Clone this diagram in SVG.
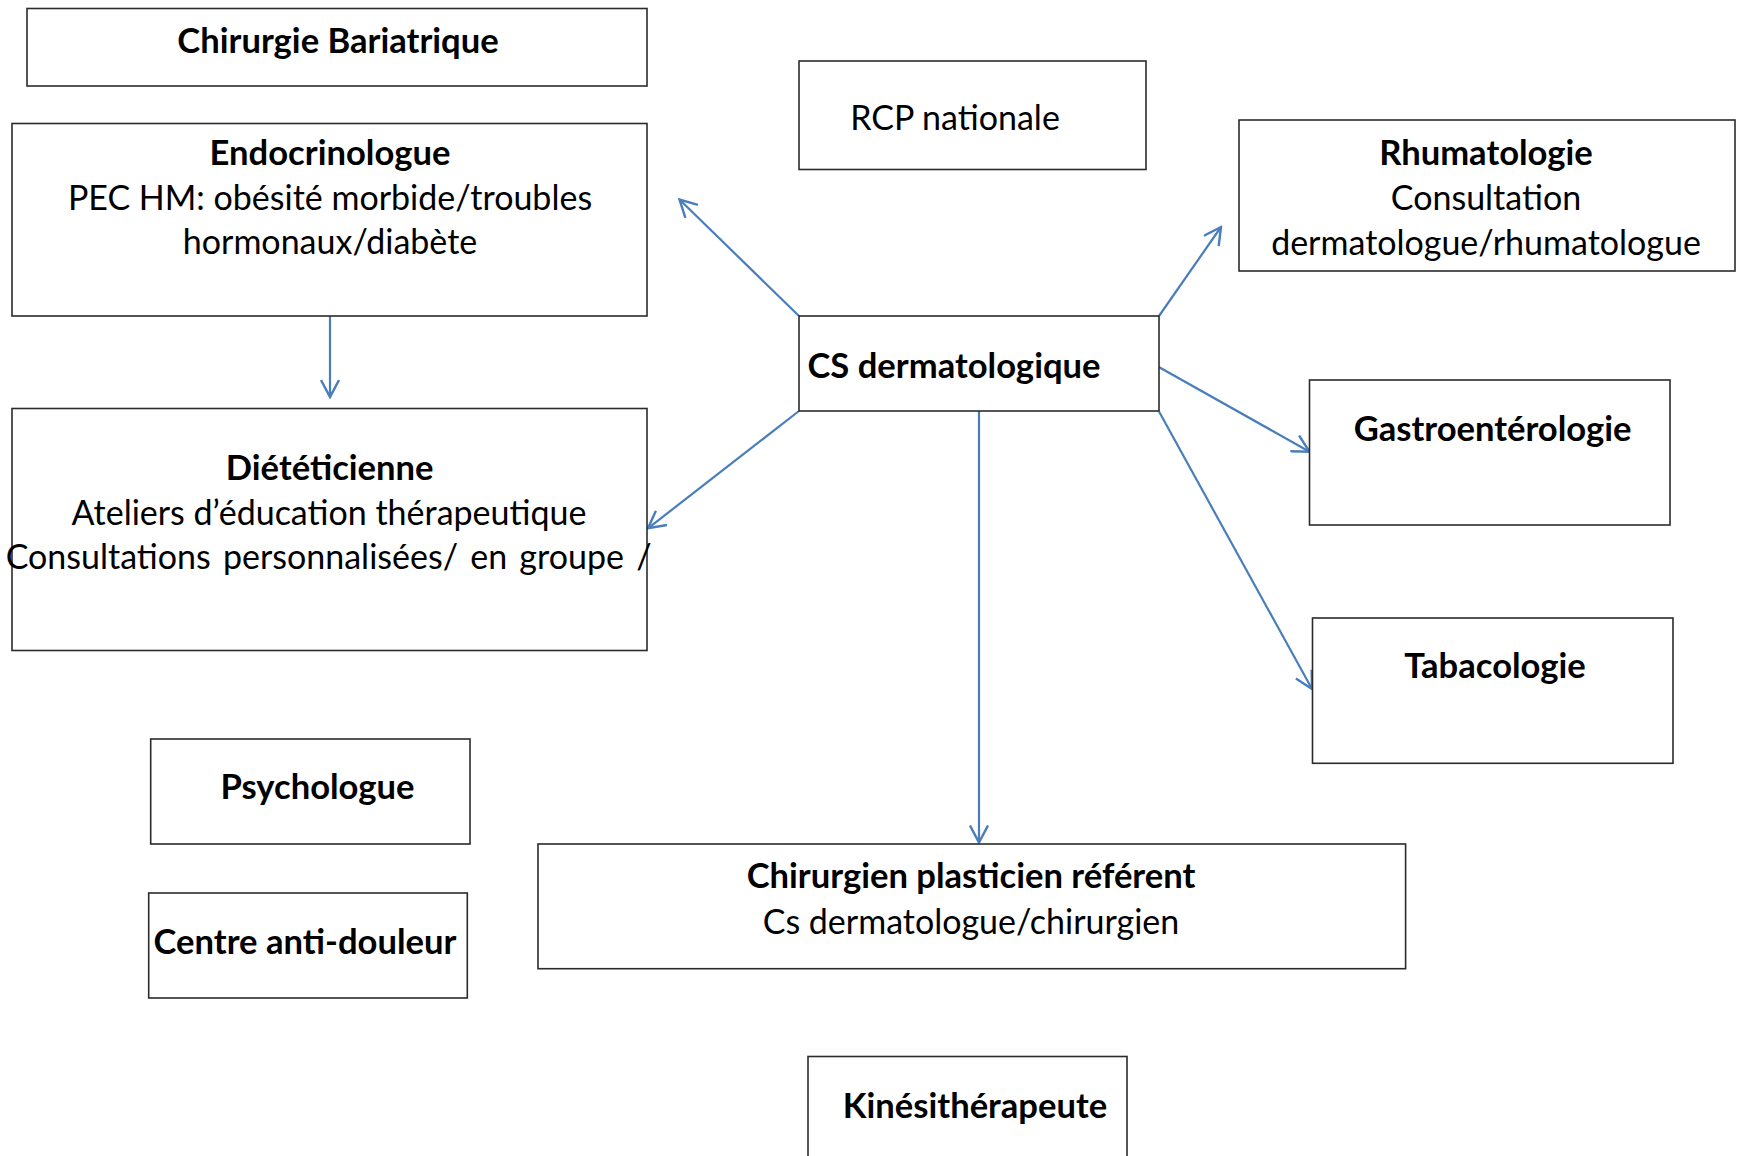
<svg xmlns="http://www.w3.org/2000/svg" width="1737" height="1156" viewBox="0 0 1737 1156">
  <defs>
    <style>
      .box { fill: #ffffff; stroke: #2b2b2b; stroke-width: 1.6; }
      .t { font-family: Lato, "Liberation Sans", sans-serif; font-size: 34px; fill: #000000; text-anchor: middle; }
      .b { font-weight: bold; font-size: 34.6px; }
      .edge { fill: none; stroke: #4a7ebb; stroke-width: 2.2; marker-end: url(#arr); }
    </style>
    <marker id="arr" viewBox="0 0 20 20" refX="18" refY="10" markerWidth="20" markerHeight="20" markerUnits="userSpaceOnUse" orient="auto">
      <path d="M1,1 L18,10 L1,19" fill="none" stroke="#4a7ebb" stroke-width="2.4"/>
    </marker>
  </defs>
  <rect width="1737" height="1156" fill="#ffffff"/>

  <g id="connectors">
    <line class="edge" x1="330" y1="316" x2="330" y2="397"/>
    <line class="edge" x1="799" y1="316" x2="679.5" y2="199.5"/>
    <line class="edge" x1="1159" y1="316" x2="1221" y2="227"/>
    <line class="edge" x1="1157" y1="366" x2="1309.5" y2="451.7"/>
    <line class="edge" x1="799" y1="411" x2="648" y2="528.3"/>
    <line class="edge" x1="979" y1="411" x2="979" y2="842.5"/>
    <line class="edge" x1="1159" y1="411.5" x2="1312" y2="689"/>
  </g>

  <g id="chirurgie-bariatrique">
    <rect class="box" x="27" y="8.5" width="620" height="77.5"/>
    <text class="t b" x="338" y="52.5">Chirurgie Bariatrique</text>
  </g>

  <g id="endocrinologue">
    <rect class="box" x="12" y="123.5" width="635" height="192.5"/>
    <text class="t b" x="330" y="165">Endocrinologue</text>
    <text class="t" x="330" y="210">PEC HM: obésité morbide/troubles</text>
    <text class="t" x="330" y="254">hormonaux/diabète</text>
  </g>

  <g id="rcp-nationale">
    <rect class="box" x="799" y="61" width="347" height="108.5"/>
    <text class="t" x="955" y="129.5">RCP nationale</text>
  </g>

  <g id="rhumatologie">
    <rect class="box" x="1239" y="120" width="496" height="151"/>
    <text class="t b" x="1486" y="165">Rhumatologie</text>
    <text class="t" x="1486" y="210">Consultation</text>
    <text class="t" x="1486" y="255">dermatologue/rhumatologue</text>
  </g>

  <g id="cs-dermatologique">
    <rect class="box" x="799" y="316" width="360" height="95"/>
    <text class="t b" x="954" y="377.5">CS dermatologique</text>
  </g>

  <g id="gastroenterologie">
    <rect class="box" x="1309.5" y="380" width="360.5" height="145"/>
    <text class="t b" x="1492.6" y="440.5">Gastroentérologie</text>
  </g>

  <g id="dieteticienne">
    <rect class="box" x="12" y="408.5" width="635" height="242"/>
    <text class="t b" x="329.7" y="480">Diététicienne</text>
    <text class="t" x="329" y="525">Ateliers d’éducation thérapeutique</text>
    <text class="t" x="328.6" y="569.3" word-spacing="3.5">Consultations personnalisées/ en groupe /</text>
  </g>

  <g id="tabacologie">
    <rect class="box" x="1312.5" y="618" width="360.5" height="145.3"/>
    <text class="t b" x="1495" y="677.5">Tabacologie</text>
  </g>

  <g id="psychologue">
    <rect class="box" x="150.7" y="739" width="319.3" height="105"/>
    <text class="t b" x="317.5" y="799">Psychologue</text>
  </g>

  <g id="centre-anti-douleur">
    <rect class="box" x="148.7" y="893" width="318.6" height="105"/>
    <text class="t b" x="305" y="954">Centre anti-douleur</text>
  </g>

  <g id="chirurgien-plasticien">
    <rect class="box" x="538" y="844" width="867.6" height="124.7"/>
    <text class="t b" x="971" y="888">Chirurgien plasticien référent</text>
    <text class="t" x="971" y="933.5">Cs dermatologue/chirurgien</text>
  </g>

  <g id="kinesitherapeute">
    <rect class="box" x="808" y="1056.5" width="319" height="130"/>
    <text class="t b" x="975" y="1117.5">Kinésithérapeute</text>
  </g>
</svg>
